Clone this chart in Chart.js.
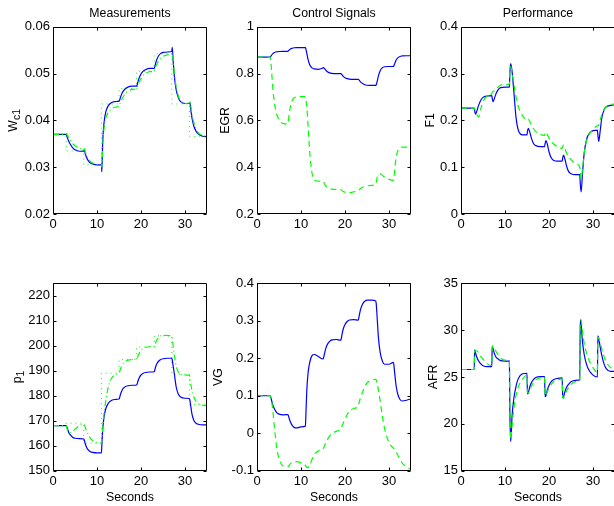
<!DOCTYPE html>
<html lang="en">
<head>
<meta charset="UTF-8">
<title>Simulation results</title>
<script src="https://cdn.jsdelivr.net/npm/chart.js@4.4.1/dist/chart.umd.min.js"></script>
<style>
  body { margin: 0; width: 614px; height: 506px; overflow: hidden; background: #fff; position: relative; }
  canvas { position: absolute; }
</style>
</head>
<body>
<canvas id="wc1" width="209" height="239" style="left:0px;top:0px"></canvas>
<canvas id="egr" width="209" height="239" style="left:204px;top:0px"></canvas>
<canvas id="f1" width="209" height="239" style="left:408px;top:0px"></canvas>
<canvas id="p1" width="209" height="250" style="left:0px;top:256px"></canvas>
<canvas id="vg" width="209" height="250" style="left:204px;top:256px"></canvas>
<canvas id="afr" width="209" height="250" style="left:408px;top:256px"></canvas>

<script>
// time axis (seconds), denser just after each step at 3, 7, 11 ... 31
const time = [0,
  3, 3.1, 3.3, 3.6, 4, 4.5, 5, 6,
  7, 7.1, 7.3, 7.6, 8, 8.5, 9, 10,
  11, 11.1, 11.3, 11.6, 12, 12.5, 13, 14,
  15, 15.1, 15.3, 15.6, 16, 16.5, 17, 18,
  19, 19.1, 19.3, 19.6, 20, 20.5, 21, 22,
  23, 23.1, 23.3, 23.6, 24, 24.5, 25, 26,
  27, 27.1, 27.3, 27.6, 28, 28.5, 29, 30,
  31, 31.1, 31.3, 31.6, 32, 32.5, 33, 34,
  35];
const refTime = [0, 3, 7, 11, 15, 19, 23, 27, 31, 35];

const wc1Blue = [0.0370,
  0.0370, 0.0368, 0.0362, 0.0355, 0.0348, 0.0341, 0.0337, 0.0334,
  0.0334, 0.0338, 0.0330, 0.0321, 0.0314, 0.0309, 0.0307, 0.0305,
  0.0305, 0.0290, 0.0355, 0.0395, 0.0418, 0.0430, 0.0436, 0.0440,
  0.0441, 0.0442, 0.0448, 0.0456, 0.0463, 0.0468, 0.0471, 0.0473,
  0.0473, 0.0475, 0.0482, 0.0491, 0.0499, 0.0505, 0.0508, 0.0511,
  0.0511, 0.0513, 0.0521, 0.0530, 0.0538, 0.0543, 0.0545, 0.0546,
  0.0547, 0.0556, 0.0528, 0.0492, 0.0465, 0.0448, 0.0440, 0.0436,
  0.0436, 0.0438, 0.0424, 0.0404, 0.0388, 0.0377, 0.0371, 0.0366,
  0.0365];
const wc1Green = [0.0370,
  0.0370, 0.0372, 0.0368, 0.0362, 0.0357, 0.0350, 0.0346, 0.0341,
  0.0339, 0.0340, 0.0334, 0.0326, 0.0318, 0.0312, 0.0309, 0.0306,
  0.0305, 0.0300, 0.0345, 0.0383, 0.0405, 0.0416, 0.0422, 0.0428,
  0.0430, 0.0432, 0.0437, 0.0444, 0.0451, 0.0458, 0.0462, 0.0466,
  0.0468, 0.0470, 0.0475, 0.0482, 0.0489, 0.0496, 0.0500, 0.0504,
  0.0505, 0.0507, 0.0513, 0.0520, 0.0527, 0.0534, 0.0537, 0.0540,
  0.0542, 0.0545, 0.0530, 0.0500, 0.0472, 0.0452, 0.0442, 0.0436,
  0.0437, 0.0443, 0.0432, 0.0412, 0.0396, 0.0382, 0.0374, 0.0368,
  0.0366];
const wc1Ref = [0.0370, 0.0335, 0.0305, 0.0435, 0.0468, 0.0505, 0.0542, 0.0435, 0.0366, 0.0366];

const egrBlue = [0.870,
  0.870, 0.872, 0.878, 0.885, 0.890, 0.893, 0.894, 0.895,
  0.895, 0.896, 0.900, 0.905, 0.908, 0.910, 0.911, 0.911,
  0.911, 0.905, 0.888, 0.860, 0.836, 0.824, 0.820, 0.818,
  0.824, 0.825, 0.822, 0.815, 0.808, 0.803, 0.801, 0.800,
  0.800, 0.799, 0.795, 0.788, 0.782, 0.778, 0.776, 0.775,
  0.775, 0.774, 0.770, 0.763, 0.757, 0.752, 0.750, 0.749,
  0.749, 0.752, 0.765, 0.790, 0.812, 0.825, 0.829, 0.830,
  0.830, 0.833, 0.842, 0.857, 0.867, 0.873, 0.875, 0.876,
  0.876];
const egrGreen = [0.870,
  0.870, 0.860, 0.815, 0.735, 0.670, 0.625, 0.603, 0.586,
  0.585, 0.595, 0.625, 0.660, 0.685, 0.697, 0.700, 0.701,
  0.701, 0.690, 0.660, 0.580, 0.460, 0.375, 0.345, 0.340,
  0.340, 0.338, 0.330, 0.320, 0.313, 0.308, 0.306, 0.305,
  0.305, 0.304, 0.300, 0.296, 0.293, 0.291, 0.291, 0.295,
  0.300, 0.301, 0.305, 0.310, 0.314, 0.318, 0.320, 0.322,
  0.325, 0.335, 0.355, 0.368, 0.371, 0.365, 0.357, 0.348,
  0.344, 0.350, 0.390, 0.440, 0.470, 0.482, 0.486, 0.486,
  0.485];

const f1Blue = [0.226,
  0.226, 0.220, 0.213, 0.220, 0.232, 0.243, 0.249, 0.252,
  0.253, 0.247, 0.240, 0.247, 0.258, 0.266, 0.270, 0.271,
  0.271, 0.300, 0.321, 0.305, 0.262, 0.207, 0.180, 0.169,
  0.169, 0.176, 0.183, 0.176, 0.162, 0.150, 0.146, 0.144,
  0.144, 0.150, 0.157, 0.150, 0.133, 0.120, 0.115, 0.113,
  0.113, 0.119, 0.126, 0.118, 0.102, 0.090, 0.086, 0.084,
  0.084, 0.065, 0.047, 0.085, 0.130, 0.158, 0.170, 0.178,
  0.179, 0.170, 0.155, 0.175, 0.205, 0.222, 0.229, 0.232,
  0.233];
const f1Green = [0.226,
  0.226, 0.225, 0.220, 0.212, 0.207, 0.225, 0.240, 0.252,
  0.257, 0.260, 0.262, 0.263, 0.267, 0.272, 0.275, 0.277,
  0.277, 0.300, 0.315, 0.302, 0.278, 0.250, 0.230, 0.210,
  0.201, 0.202, 0.203, 0.198, 0.190, 0.182, 0.176, 0.170,
  0.168, 0.172, 0.175, 0.170, 0.162, 0.155, 0.150, 0.143,
  0.140, 0.144, 0.147, 0.140, 0.130, 0.122, 0.116, 0.108,
  0.100, 0.090, 0.075, 0.095, 0.130, 0.155, 0.168, 0.180,
  0.188, 0.188, 0.190, 0.200, 0.212, 0.222, 0.229, 0.234,
  0.235];

const p1Blue = [168.0,
  168.0, 167.8, 166.8, 165.2, 164.2, 163.3, 163.0, 162.8,
  162.7, 162.3, 161.0, 159.5, 158.3, 157.6, 157.3, 157.1,
  157.1, 160.0, 166.5, 171.5, 174.8, 176.8, 177.8, 178.5,
  178.7, 179.0, 180.3, 181.8, 183.0, 183.7, 184.0, 184.2,
  184.3, 184.6, 185.8, 187.2, 188.3, 189.0, 189.3, 189.5,
  189.6, 190.0, 191.4, 192.8, 193.8, 194.5, 194.8, 195.0,
  195.0, 194.5, 192.0, 188.5, 183.5, 180.6, 179.5, 179.0,
  178.9, 178.3, 176.0, 172.5, 170.2, 169.0, 168.6, 168.3,
  168.3];
const p1Green = [168.0,
  168.0, 167.5, 166.2, 165.3, 165.2, 165.8, 166.6, 168.0,
  168.7, 168.5, 167.5, 166.0, 164.5, 163.0, 162.0, 161.3,
  161.0, 162.5, 167.0, 173.0, 178.0, 183.0, 186.0, 188.3,
  189.0, 189.3, 190.5, 191.8, 193.0, 193.8, 194.2, 194.5,
  194.6, 194.9, 195.8, 197.0, 198.2, 199.0, 199.4, 199.6,
  199.6, 199.9, 201.0, 202.3, 203.3, 204.0, 204.2, 204.1,
  203.8, 203.0, 200.0, 196.0, 191.8, 189.5, 188.6, 188.2,
  188.3, 187.5, 185.0, 182.0, 179.5, 177.8, 176.8, 176.2,
  176.0];
const p1Ref = [168, 169, 161, 189, 194.5, 199.5, 204, 188.5, 176.5, 176.5];

const vgBlue = [0.100,
  0.100, 0.097, 0.088, 0.075, 0.064, 0.055, 0.051, 0.049,
  0.050, 0.048, 0.040, 0.030, 0.021, 0.015, 0.014, 0.017,
  0.019, 0.045, 0.110, 0.160, 0.190, 0.207, 0.210, 0.204,
  0.198, 0.200, 0.210, 0.225, 0.237, 0.245, 0.249, 0.250,
  0.248, 0.250, 0.262, 0.278, 0.290, 0.298, 0.302, 0.303,
  0.302, 0.305, 0.318, 0.333, 0.345, 0.352, 0.355, 0.355,
  0.353, 0.345, 0.310, 0.255, 0.215, 0.192, 0.184, 0.184,
  0.189, 0.183, 0.160, 0.128, 0.104, 0.090, 0.086, 0.088,
  0.092];
const vgGreen = [0.100,
  0.100, 0.098, 0.088, 0.060, 0.010, -0.040, -0.068, -0.088,
  -0.090, -0.089, -0.086, -0.081, -0.078, -0.076, -0.076, -0.079,
  -0.086, -0.088, -0.091, -0.092, -0.085, -0.070, -0.057, -0.047,
  -0.042, -0.040, -0.035, -0.027, -0.017, -0.008, -0.001, 0.005,
  0.010, 0.012, 0.018, 0.027, 0.037, 0.050, 0.059, 0.066,
  0.072, 0.076, 0.086, 0.098, 0.110, 0.124, 0.134, 0.141,
  0.144, 0.142, 0.132, 0.115, 0.085, 0.045, 0.012, -0.025,
  -0.040, -0.041, -0.044, -0.050, -0.058, -0.070, -0.080, -0.090,
  -0.096];

const afrBlue = [25.8,
  25.8, 27.9, 27.6, 27.1, 26.7, 26.4, 26.2, 26.1,
  26.1, 28.3, 28.0, 27.5, 27.1, 26.9, 26.75, 26.7,
  26.7, 21.5, 18.1, 20.8, 22.7, 24.0, 24.8, 25.35,
  25.4, 23.2, 23.3, 23.9, 24.4, 24.75, 24.95, 25.05,
  25.05, 22.9, 23.0, 23.6, 24.1, 24.5, 24.7, 24.85,
  24.9, 22.8, 22.9, 23.4, 23.9, 24.25, 24.5, 24.65,
  24.7, 31.1, 30.6, 28.8, 27.4, 26.4, 25.8, 25.2,
  25.0, 29.4, 29.1, 28.3, 27.3, 26.4, 25.9, 25.6,
  25.6];
const afrGreen = [25.8,
  25.8, 27.7, 27.8, 27.8, 27.6, 27.2, 26.9, 26.4,
  26.2, 28.2, 28.3, 28.1, 27.7, 27.3, 27.0, 26.8,
  26.7, 22.5, 18.3, 19.8, 21.6, 23.0, 23.9, 24.8,
  25.2, 23.4, 23.3, 23.6, 24.0, 24.4, 24.7, 24.9,
  25.0, 23.1, 23.0, 23.4, 23.8, 24.2, 24.5, 24.7,
  24.8, 22.9, 22.7, 23.1, 23.5, 23.9, 24.2, 24.5,
  24.6, 30.8, 31.1, 29.8, 28.6, 27.6, 26.9, 26.0,
  25.5, 29.0, 29.2, 28.7, 28.0, 27.2, 26.6, 26.0,
  25.8];

const FONT = "'Liberation Sans', Arial, Helvetica, sans-serif";
const BLUE = '#0000ff', GREEN = '#00ff00';

function pts(xs, ys) {
  return xs.map((x, i) => ({ x: x, y: ys[i] }));
}

function line(xs, ys, color, dash, stepped) {
  return {
    data: pts(xs, ys),
    borderColor: color,
    borderWidth: stepped ? 1 : 1.2,
    borderDash: dash || [],
    pointRadius: 0,
    fill: false,
    stepped: stepped || false,
    cubicInterpolationMode: stepped ? 'default' : 'monotone'
  };
}

// keep only ticks on whole steps (drops the extra 35 / 225 bound ticks)
function stepTicks(step) {
  return s => {
    s.ticks = s.ticks.filter(t => Math.abs(t.value / step - Math.round(t.value / step)) < 1e-6);
  };
}

// matlab style box, inward ticks and y label with optional subscript
const matlabAxes = {
  id: 'matlabAxes',
  afterDatasetsDraw(chart, args, opts) {
    const ctx = chart.ctx, a = chart.chartArea;
    const sx = chart.scales.x, sy = chart.scales.y;
    const L = Math.round(a.left) + 0.5, R = Math.round(a.right) - 0.5;
    const T = Math.round(a.top) + 0.5, B = Math.round(a.bottom) - 0.5;
    ctx.save();
    ctx.strokeStyle = '#000';
    ctx.lineWidth = 1;
    ctx.beginPath();
    ctx.rect(L, T, R - L, B - T);
    sx.ticks.forEach(t => {
      const px = Math.round(sx.getPixelForValue(t.value)) + 0.5;
      ctx.moveTo(px, B); ctx.lineTo(px, B - 3);
      ctx.moveTo(px, T); ctx.lineTo(px, T + 3);
    });
    sy.ticks.forEach(t => {
      const py = Math.round(sy.getPixelForValue(t.value)) + 0.5;
      ctx.moveTo(L, py); ctx.lineTo(L + 3, py);
      ctx.moveTo(R, py); ctx.lineTo(R - 3, py);
    });
    ctx.stroke();

    ctx.translate(a.left - opts.offset, (a.top + a.bottom) / 2);
    ctx.rotate(-Math.PI / 2);
    ctx.fillStyle = '#000';
    ctx.textBaseline = 'middle';
    ctx.textAlign = 'left';
    ctx.font = '12.3px ' + FONT;
    const w1 = ctx.measureText(opts.text).width;
    ctx.font = '10.5px ' + FONT;
    const w2 = opts.sub ? ctx.measureText(opts.sub).width : 0;
    const x0 = -(w1 + w2) / 2;
    ctx.font = '12.3px ' + FONT;
    ctx.fillText(opts.text, x0, 0);
    if (opts.sub) {
      ctx.font = '10.5px ' + FONT;
      ctx.fillText(opts.sub, x0 + w1, 3.5);
    }
    ctx.restore();
  }
};

function makeChart(id, p) {
  const top = p.row === 0;
  return new Chart(document.getElementById(id), {
    type: 'line',
    data: { datasets: p.datasets },
    plugins: [matlabAxes],
    options: {
      responsive: false,
      animation: false,
      events: [],
      layout: { padding: { left: 0, right: 2, top: top ? 0 : 27.3, bottom: 0 } },
      plugins: {
        legend: { display: false },
        tooltip: { enabled: false },
        title: {
          display: top,
          text: p.title || '',
          fullSize: false,
          color: '#000',
          font: { family: FONT, size: 12.3, weight: 'normal', lineHeight: 1 },
          padding: { top: 7.2, bottom: 7.2 }
        },
        matlabAxes: { text: p.ylab, sub: p.sub, offset: p.yoff }
      },
      scales: {
        x: {
          type: 'linear', min: 0, max: 35, bounds: 'data',
          afterBuildTicks: stepTicks(10),
          afterFit: s => { s.height = top ? 25 : 35.3; },
          grid: { display: false, drawTicks: false },
          border: { display: false },
          ticks: {
            stepSize: 10, includeBounds: false, padding: 3, maxRotation: 0, autoSkip: false,
            color: '#000', font: { family: FONT, size: 13 }
          },
          title: {
            display: !top, text: 'Seconds', color: '#000',
            font: { family: FONT, size: 12.3 }, padding: { top: 0, bottom: 1 }
          }
        },
        y: {
          type: 'linear', min: p.ymin, max: p.ymax, bounds: 'data',
          afterBuildTicks: stepTicks(p.ystep),
          afterFit: s => { s.width = 53; },
          grid: { display: false, drawTicks: false },
          border: { display: false },
          ticks: {
            stepSize: p.ystep, includeBounds: false, padding: 3, autoSkip: false,
            color: '#000', font: { family: FONT, size: 13 },
            callback: v => String(Math.round(v * 1e6) / 1e6)
          }
        }
      }
    }
  });
}

makeChart('wc1', {
  row: 0, title: 'Measurements', ylab: 'W', sub: 'c1', yoff: 39,
  ymin: 0.02, ymax: 0.06, ystep: 0.01,
  datasets: [
    line(time, wc1Green, GREEN, [6, 3, 1, 3]),
    line(time, wc1Blue, BLUE),
    line(refTime, wc1Ref, GREEN, [1, 4], 'before')
  ]
});
makeChart('egr', {
  row: 0, title: 'Control Signals', ylab: 'EGR', yoff: 31.5,
  ymin: 0.2, ymax: 1, ystep: 0.2,
  datasets: [
    line(time, egrGreen, GREEN, [6, 4]),
    line(time, egrBlue, BLUE)
  ]
});
makeChart('f1', {
  row: 0, title: 'Performance', ylab: 'F1', yoff: 30.5,
  ymin: 0, ymax: 0.4, ystep: 0.1,
  datasets: [
    line(time, f1Green, GREEN, [6, 4]),
    line(time, f1Blue, BLUE)
  ]
});
makeChart('p1', {
  row: 1, ylab: 'p', sub: '1', yoff: 35,
  ymin: 150, ymax: 225, ystep: 10,
  datasets: [
    line(time, p1Green, GREEN, [6, 3, 1, 3]),
    line(time, p1Blue, BLUE),
    line(refTime, p1Ref, GREEN, [1, 4], 'before')
  ]
});
makeChart('vg', {
  row: 1, ylab: 'VG', yoff: 38,
  ymin: -0.1, ymax: 0.4, ystep: 0.1,
  datasets: [
    line(time, vgGreen, GREEN, [6, 4]),
    line(time, vgBlue, BLUE)
  ]
});
makeChart('afr', {
  row: 1, ylab: 'AFR', yoff: 27,
  ymin: 15, ymax: 35, ystep: 5,
  datasets: [
    line(time, afrGreen, GREEN, [6, 4]),
    line(time, afrBlue, BLUE)
  ]
});
</script>
</body>
</html>
